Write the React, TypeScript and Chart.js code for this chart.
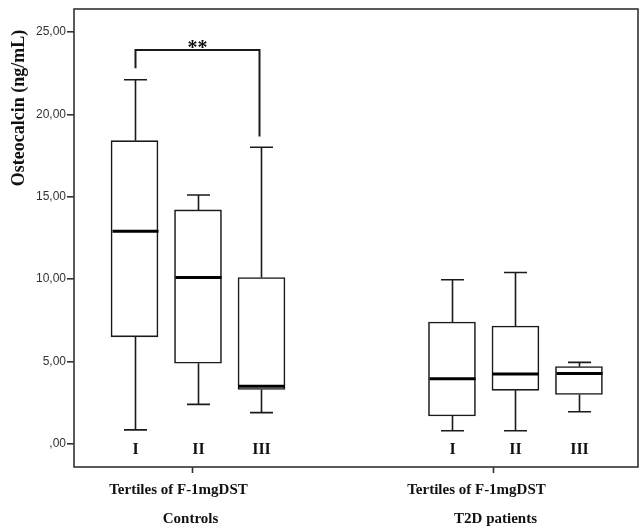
import React, { useEffect, useRef } from "react";
import { Chart, registerables } from "chart.js";

Chart.register(...registerables);

// Box positions along the x axis (two groups of three tertiles)
const positions = [1, 2, 3, 6, 7, 8];
const tertileLabels = ["I", "II", "III", "I", "II", "III"];
const whiskerLow = [0.85, 2.4, 1.9, 0.8, 0.8, 1.95];
const q1 = [6.5, 4.9, 3.3, 1.7, 3.25, 3.0];
const median = [12.9, 10.1, 3.5, 3.95, 4.25, 4.27];
const q3 = [18.4, 14.2, 10.1, 7.4, 7.15, 4.7];
const whiskerHigh = [22.1, 15.1, 18.0, 9.96, 10.4, 4.95];

const groupTickPositions = [1.905, 6.646];
const groupLine1 = ["Tertiles of F-1mgDST", "Tertiles of F-1mgDST"];
const groupLine2 = ["Controls", "T2D patients"];

const yTickValues = [0, 5, 10, 15, 20, 25];
const yTitle = "Osteocalcin (ng/mL)";

// significance bracket between Controls I and Controls III
const bracketFrom = 0;
const bracketTo = 2;
const bracketTop = 23.9;
const bracketLeftEnd = 22.8;
const bracketRightEnd = 18.65;
const bracketText = "**";

const fmt = (v: number) => (v === 0 ? ",00" : v.toFixed(2).replace(".", ","));

export default function App() {
  const ref = useRef<HTMLCanvasElement | null>(null);

  useEffect(() => {
    document.body.style.margin = "0";
    const canvas = ref.current;
    if (!canvas) return;

    const overlay = {
      id: "boxOverlay",
      afterDatasetsDraw(chart: any) {
        const { ctx, chartArea, scales } = chart;
        const xs = scales.x;
        const ys = scales.y;
        ctx.save();
        // whiskers and medians
        const capHalf = 11.5;
        positions.forEach((p, i) => {
          const cx = Math.round(xs.getPixelForValue(p)) + 0.5;
          ctx.strokeStyle = "#1a1a1a";
          ctx.lineWidth = 1.6;
          ctx.beginPath();
          ctx.moveTo(cx, ys.getPixelForValue(q3[i]));
          ctx.lineTo(cx, ys.getPixelForValue(whiskerHigh[i]));
          ctx.moveTo(cx, ys.getPixelForValue(q1[i]));
          ctx.lineTo(cx, ys.getPixelForValue(whiskerLow[i]));
          const yh = ys.getPixelForValue(whiskerHigh[i]);
          const yl = ys.getPixelForValue(whiskerLow[i]);
          ctx.moveTo(cx - capHalf, yh);
          ctx.lineTo(cx + capHalf, yh);
          ctx.moveTo(cx - capHalf, yl);
          ctx.lineTo(cx + capHalf, yl);
          ctx.stroke();
          // median
          ctx.strokeStyle = "#000";
          ctx.lineWidth = 3;
          ctx.beginPath();
          const ym = ys.getPixelForValue(median[i]);
          ctx.moveTo(cx - 23, ym);
          ctx.lineTo(cx + 23, ym);
          ctx.stroke();
          // roman numerals
          ctx.fillStyle = "#111";
          ctx.font = "bold 16px 'Liberation Serif', 'Times New Roman', serif";
          ctx.textAlign = "center";
          ctx.textBaseline = "alphabetic";
          ctx.fillText(tertileLabels[i], cx, 454);
        });

        // significance bracket
        const bx1 = Math.round(xs.getPixelForValue(positions[bracketFrom])) + 0.5;
        const bx2 = Math.round(xs.getPixelForValue(positions[bracketTo])) - 1.5;
        const byTop = ys.getPixelForValue(bracketTop);
        ctx.strokeStyle = "#1a1a1a";
        ctx.lineWidth = 2;
        ctx.beginPath();
        ctx.moveTo(bx1, ys.getPixelForValue(bracketLeftEnd));
        ctx.lineTo(bx1, byTop);
        ctx.lineTo(bx2, byTop);
        ctx.lineTo(bx2, ys.getPixelForValue(bracketRightEnd));
        ctx.stroke();
        ctx.fillStyle = "#111";
        ctx.font = "bold 20px 'Liberation Serif', 'Times New Roman', serif";
        ctx.textAlign = "center";
        ctx.textBaseline = "alphabetic";
        ctx.fillText(bracketText, (bx1 + bx2) / 2, 54);

        // frame
        ctx.strokeStyle = "#333";
        ctx.lineWidth = 1.6;
        ctx.strokeRect(
          chartArea.left,
          chartArea.top,
          chartArea.right - chartArea.left,
          chartArea.bottom - chartArea.top
        );

        // x group ticks and labels
        groupTickPositions.forEach((gp, i) => {
          const tx = Math.round(xs.getPixelForValue(gp)) + 0.5;
          ctx.beginPath();
          ctx.moveTo(tx, chartArea.bottom);
          ctx.lineTo(tx, chartArea.bottom + 6);
          ctx.stroke();
          ctx.fillStyle = "#111";
          ctx.font = "bold 15px 'Liberation Serif', 'Times New Roman', serif";
          ctx.textAlign = "center";
          ctx.fillText(groupLine1[i], tx + (i === 0 ? -14 : -17), 494);
          ctx.fillText(groupLine2[i], tx + (i === 0 ? -2 : 2), 523);
        });

        // y title
        ctx.save();
        ctx.translate(19, 108);
        ctx.rotate(-Math.PI / 2);
        ctx.fillStyle = "#111";
        ctx.font = "bold 18px 'Liberation Serif', 'Times New Roman', serif";
        ctx.textAlign = "center";
        ctx.textBaseline = "middle";
        ctx.fillText(yTitle, 0, 0);
        ctx.restore();

        ctx.restore();
      },
    };

    const chart = new Chart(canvas, {
      type: "bar",
      data: {
        datasets: [
          {
            data: positions.map((p, i) => ({ x: p, y: [q1[i], q3[i]] })) as any,
            backgroundColor: "#ffffff",
            borderColor: "#1a1a1a",
            borderWidth: 1.6,
            borderSkipped: false,
            barThickness: 47,
          },
        ],
      },
      options: {
        responsive: false,
        animation: false,
        devicePixelRatio: 1,
        layout: { padding: { left: 0, top: 9, right: 3, bottom: 0 } },
        plugins: { legend: { display: false }, tooltip: { enabled: false } },
        scales: {
          x: {
            type: "linear",
            offset: false,
            min: 0.047,
            max: 8.93,
            grid: { display: false, offset: false },
            border: { display: false },
            ticks: { display: false },
            afterFit: (s: any) => {
              s.height = 60;
            },
          },
          y: {
            type: "linear",
            min: -1.4,
            max: 26.39,
            afterBuildTicks: (s: any) => {
              s.ticks = yTickValues.map((v) => ({ value: v }));
            },
            grid: {
              display: true,
              drawOnChartArea: false,
              drawTicks: true,
              tickLength: 7,
              color: "#333",
              lineWidth: 1.6,
            },
            border: { display: false },
            ticks: {
              color: "#333",
              font: { family: "'Liberation Sans', Arial, sans-serif", size: 12 },
              padding: 1,
              callback: (v: any) => fmt(Number(v)),
            },
            afterFit: (s: any) => {
              s.width = 74;
            },
          },
        },
      },
      plugins: [overlay],
    });

    return () => chart.destroy();
  }, []);

  return (
    <div style={{ width: 641, height: 527, background: "#fff" }}>
      <canvas ref={ref} width={641} height={527} style={{ display: "block" }} />
    </div>
  );
}
